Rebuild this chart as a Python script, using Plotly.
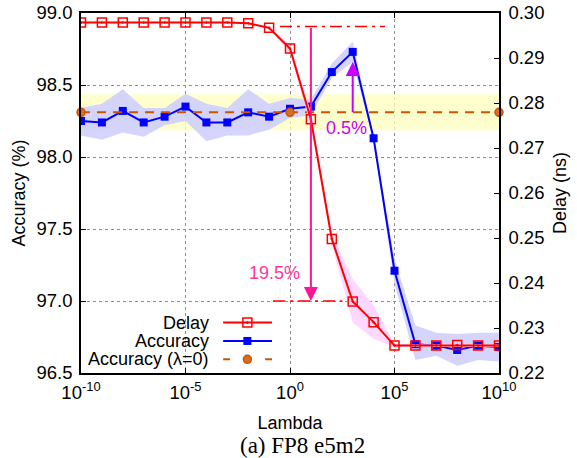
import math
import plotly.graph_objects as go

# ---------------- data ----------------
lambdas = [1e-10, 1e-9, 1e-8, 1e-7, 1e-6, 1e-5, 1e-4, 1e-3, 1e-2, 1e-1,
           1e0, 1e1, 1e2, 1e3, 1e4, 1e5, 1e6, 1e7, 1e8, 1e9, 1e10]

delay = [0.2979, 0.2979, 0.2979, 0.2979, 0.2979, 0.2979, 0.2979, 0.2979, 0.2977, 0.2967,
         0.2921, 0.2764, 0.2498, 0.2359, 0.2313, 0.2261, 0.2261, 0.2261, 0.2262, 0.2261, 0.2261]
delay_upper = [0.2981, 0.2981, 0.2981, 0.2981, 0.2981, 0.2981, 0.2981, 0.2981, 0.2979, 0.2970,
               0.2930, 0.2780, 0.2510, 0.2409, 0.2350, 0.2265, 0.2264, 0.2264, 0.2265, 0.2264, 0.2264]
delay_lower = [0.2977, 0.2977, 0.2977, 0.2977, 0.2977, 0.2977, 0.2977, 0.2977, 0.2975, 0.2964,
               0.2912, 0.2748, 0.2486, 0.2312, 0.2276, 0.2257, 0.2258, 0.2258, 0.2259, 0.2258, 0.2258]

accuracy = [98.25, 98.24, 98.32, 98.24, 98.28, 98.35, 98.24, 98.24, 98.31, 98.28,
            98.335, 98.35, 98.59, 98.73, 98.13, 97.21, 96.70, 96.69, 96.66, 96.69, 96.68]
acc_upper = [98.34, 98.37, 98.47, 98.34, 98.34, 98.44, 98.37, 98.34, 98.47, 98.37,
             98.41, 98.40, 98.65, 98.80, 98.15, 97.29, 96.83, 96.78, 96.77, 96.78, 96.78]
acc_lower = [98.15, 98.12, 98.17, 98.14, 98.22, 98.25, 98.11, 98.15, 98.15, 98.19,
             98.27, 98.29, 98.55, 98.66, 98.11, 97.12, 96.59, 96.62, 96.55, 96.59, 96.58]

acc0 = 98.31
acc0_lo = 98.185
acc0_hi = 98.435
acc0_lambdas = [1e-10, 1e0, 1e10]

# guide lines / annotations (delay reference levels)
guide_top_lambda = [0.33, 35000]
guide_top_delay = 0.2970
guide_bot_lambda = [0.155, 320]
guide_bot_delay = 0.2360
delay_arrow_lambda = 1e1        # 19.5 % reduction arrow
acc_arrow_lambda = 1e3          # 0.5 % improvement arrow
acc_arrow_from = 98.30
acc_arrow_to = 98.66

x_tickvals = [1e-10, 1e-5, 1e0, 1e5, 1e10]
x_ticktext = ["10<sup>-10</sup>", "10<sup>-5</sup>", "10<sup>0</sup>", "10<sup>5</sup>", "10<sup>10</sup>"]
y_tickvals = [96.5, 97.0, 97.5, 98.0, 98.5, 99.0]
y_ticktext = ["96.5", "97.0", "97.5", "98.0", "98.5", "99.0"]
y2_tickvals = [0.22, 0.23, 0.24, 0.25, 0.26, 0.27, 0.28, 0.29, 0.30]
y2_ticktext = ["0.22", "0.23", "0.24", "0.25", "0.26", "0.27", "0.28", "0.29", "0.30"]

# ---------------- styles ----------------
RED = "rgb(255,0,0)"
BLUE = "rgb(0,0,255)"
ORANGE = "rgb(204,85,0)"
PINK = "rgb(255,20,147)"
VIOLET = "rgb(204,0,255)"
FONT = "Liberation Sans, Arial, sans-serif"

fig = go.Figure()

# yellow band for lambda=0 accuracy
fig.add_trace(go.Scatter(
    x=[lambdas[0], lambdas[-1], lambdas[-1], lambdas[0]],
    y=[acc0_lo, acc0_lo, acc0_hi, acc0_hi],
    fill="toself", fillcolor="rgba(255,255,190,0.75)", line=dict(width=0),
    mode="lines", hoverinfo="skip", showlegend=False))

# accuracy band
fig.add_trace(go.Scatter(
    x=lambdas + lambdas[::-1], y=acc_upper + acc_lower[::-1],
    fill="toself", fillcolor="rgba(208,208,252,0.92)", line=dict(width=0),
    mode="lines", hoverinfo="skip", showlegend=False))

# delay band
fig.add_trace(go.Scatter(
    x=lambdas + lambdas[::-1], y=delay_upper + delay_lower[::-1], yaxis="y2",
    fill="toself", fillcolor="rgba(255,212,255,0.92)", line=dict(width=0),
    mode="lines", hoverinfo="skip", showlegend=False))

# guide dash-dot lines (delay levels)
for gx, gy in ((guide_top_lambda, guide_top_delay), (guide_bot_lambda, guide_bot_delay)):
    fig.add_trace(go.Scatter(
        x=gx, y=[gy, gy], yaxis="y2", mode="lines",
        line=dict(color=RED, width=1.5, dash="12px,5px,3px,5px"),
        hoverinfo="skip", showlegend=False))

# delay line
fig.add_trace(go.Scatter(
    x=lambdas, y=delay, yaxis="y2", name="Delay", mode="lines+markers",
    line=dict(color=RED, width=2),
    marker=dict(symbol="square-open-dot", size=9, color=RED, line=dict(width=1.5, color=RED)),
    showlegend=False))

# accuracy line
fig.add_trace(go.Scatter(
    x=lambdas, y=accuracy, name="Accuracy", mode="lines+markers",
    line=dict(color=BLUE, width=2),
    marker=dict(symbol="square", size=8, color=BLUE),
    showlegend=False))

# accuracy lambda=0
fig.add_trace(go.Scatter(
    x=acc0_lambdas, y=[acc0] * len(acc0_lambdas), name="Accuracy (λ=0)", mode="lines+markers",
    line=dict(color=ORANGE, width=2, dash="9px,7px"),
    marker=dict(symbol="circle", size=8, color="rgb(215,110,40)", line=dict(width=1.5, color=ORANGE)),
    cliponaxis=False, showlegend=False))

# ---------- custom gnuplot-style legend (text left, sample right) ----------
leg_rows = [
    ("Delay", 0.140, dict(color=RED, width=2), dict(symbol="square-open-dot", size=9, color=RED, line=dict(width=1.5, color=RED))),
    ("Accuracy", 0.089, dict(color=BLUE, width=2), dict(symbol="square", size=8, color=BLUE)),
    ("Accuracy (λ=0)", 0.038, dict(color=ORANGE, width=2, dash="7px,35px"),
     dict(symbol="circle", size=8, color="rgb(215,110,40)", line=dict(width=1.5, color=ORANGE))),
]
for label, ly, lstyle, mstyle in leg_rows:
    fig.add_trace(go.Scatter(x=[0.340, 0.457], y=[ly, ly], xaxis="x3", yaxis="y3", mode="lines",
                             line=lstyle, hoverinfo="skip", showlegend=False))
    fig.add_trace(go.Scatter(x=[0.398], y=[ly], xaxis="x3", yaxis="y3", mode="markers",
                             marker=mstyle, hoverinfo="skip", showlegend=False))
    fig.add_annotation(xref="paper", yref="paper", x=0.311, y=ly, text=label, showarrow=False,
                       xanchor="right", yanchor="middle", align="right",
                       font=dict(family=FONT, size=18, color="black"))

# ---------- arrows and labels ----------
fig.add_annotation(xref="x", yref="y2", axref="x", ayref="y2",
                   x=math.log10(delay_arrow_lambda), y=guide_bot_delay,
                   ax=math.log10(delay_arrow_lambda), ay=guide_top_delay,
                   text="", showarrow=True, arrowhead=2, arrowsize=1.4, arrowwidth=2,
                   arrowcolor=PINK, standoff=0, startstandoff=0)
fig.add_annotation(xref="x", yref="y", x=-0.72, y=97.196, text="19.5%", showarrow=False,
                   font=dict(family=FONT, size=18, color="rgb(255,51,153)"))
fig.add_annotation(xref="x", yref="y", axref="x", ayref="y",
                   x=math.log10(acc_arrow_lambda), y=acc_arrow_to,
                   ax=math.log10(acc_arrow_lambda), ay=acc_arrow_from,
                   text="", showarrow=True, arrowhead=2, arrowsize=1.4, arrowwidth=2,
                   arrowcolor=VIOLET, standoff=0, startstandoff=0)
fig.add_annotation(xref="x", yref="y", x=2.71, y=98.198, text="0.5%", showarrow=False,
                   font=dict(family=FONT, size=18, color=VIOLET))

# caption
fig.add_annotation(xref="paper", yref="paper", x=0.529, y=-0.2, text="(a) FP8 e5m2",
                   showarrow=False, yanchor="middle", xanchor="center",
                   font=dict(family="Liberation Serif, Times New Roman, serif", size=23, color="black"))

axis_common = dict(ticks="inside", ticklen=5, tickwidth=1, tickcolor="black",
                   showline=True, linecolor="black", linewidth=1.5, zeroline=False,
                   automargin=False,
                   tickfont=dict(family=FONT, size=18.5, color="black"))

fig.update_layout(
    template="none",
    width=577, height=458, autosize=False,
    margin=dict(l=81, r=78, t=13, b=85, pad=0),
    paper_bgcolor="white", plot_bgcolor="white",
    font=dict(family=FONT, size=18, color="black"),
    showlegend=False,
    xaxis=dict(type="log", range=[-10, 10], tickvals=x_tickvals, ticktext=x_ticktext,
               showgrid=True, gridcolor="rgb(140,140,140)", griddash="dot", gridwidth=1,
               mirror="ticks", ticklabelstandoff=2,
               title=dict(text="Lambda", font=dict(family=FONT, size=18), standoff=14),
               **axis_common),
    yaxis=dict(range=[96.5, 99.0], tickvals=y_tickvals, ticktext=y_ticktext,
               showgrid=True, gridcolor="rgb(140,140,140)", griddash="dot", gridwidth=1,
               ticklabelstandoff=3,
               title=dict(text="Accuracy (%)", font=dict(family=FONT, size=18), standoff=6),
               **axis_common),
    yaxis2=dict(range=[0.22, 0.30], tickvals=y2_tickvals, ticktext=y2_ticktext,
                overlaying="y", side="right", showgrid=False, ticklabelstandoff=4,
                title=dict(text="Delay (ns)", font=dict(family=FONT, size=18), standoff=10),
                **axis_common),
    xaxis3=dict(overlaying="x", range=[0, 1], visible=False, fixedrange=True),
    yaxis3=dict(overlaying="y", range=[0, 1], visible=False, fixedrange=True),
)

fig.write_html("out.html", config={"displayModeBar": False},
               post_script="document.body.style.margin='0px';document.body.style.overflow='hidden';")
